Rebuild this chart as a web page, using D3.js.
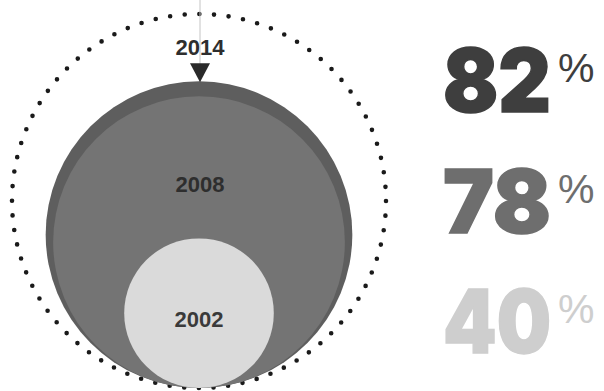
<!DOCTYPE html>
<html>
<head>
<meta charset="utf-8">
<script src="https://cdn.jsdelivr.net/npm/d3@7"></script>
<style>
  html, body { margin: 0; padding: 0; background: #fff; }
  svg { display: block; }
</style>
</head>
<body>
<svg id="chart" width="604" height="391"></svg>
<script>
// Share by survey year; circle radius grows linearly with the share
const years = ["2014", "2008", "2002"];
const values = [82, 78, 40];
const fullScale = 100;               // dotted ring = 100%
const circleColors = ["#5e5e5e", "#747474", "#dadada"];
const textColors = ["#3e3e3e", "#6e6e6e", "#cecece"];

const width = 604, height = 391;
const cx = 199, baseY = 388;          // all circles sit on a common bottom point

const svg = d3.select("#chart");

const r = d3.scaleLinear().domain([0, fullScale]).range([0, 187]);

// dotted outline for the 100% reference
svg.append("circle")
  .attr("cx", cx)
  .attr("cy", baseY - r(fullScale))
  .attr("r", r(fullScale))
  .attr("fill", "none")
  .attr("stroke", "#1a1a1a")
  .attr("stroke-width", 4.6)
  .attr("stroke-linecap", "round")
  .attr("stroke-dasharray", `0 ${(2 * Math.PI * r(fullScale)) / 80}`);

// nested circles, largest first
const data = years.map((y, i) => ({ year: y, value: values[i], color: circleColors[i], tc: textColors[i] }));

svg.selectAll("circle.share")
  .data(data)
  .join("circle")
  .attr("class", "share")
  .attr("cx", cx)
  .attr("cy", d => baseY - r(d.value))
  .attr("r", d => r(d.value))
  .attr("fill", d => d.color);

// pointer to the outermost (latest) circle
const topY = baseY - 2 * r(values[0]);
svg.append("line")
  .attr("x1", cx + 1).attr("x2", cx + 1)
  .attr("y1", 0).attr("y2", topY - 16)
  .attr("stroke", "#c4c4c4").attr("stroke-width", 1);
svg.append("path")
  .attr("d", `M${cx - 9},${topY - 18} L${cx + 11},${topY - 18} L${cx + 1},${topY + 1} Z`)
  .attr("fill", "#2a2a2a");

// year labels
const labelFont = "'Liberation Sans', Arial, sans-serif";
svg.append("text")
  .attr("x", cx + 1).attr("y", topY - 26)
  .attr("text-anchor", "middle")
  .attr("font-family", labelFont).attr("font-weight", "bold").attr("font-size", 22)
  .attr("fill", "#2e2e2e")
  .text(years[0]);
svg.append("text")
  .attr("x", cx + 1).attr("y", 192)
  .attr("text-anchor", "middle")
  .attr("font-family", labelFont).attr("font-weight", "bold").attr("font-size", 22)
  .attr("fill", "#2e2e2e")
  .text(years[1]);
svg.append("text")
  .attr("x", cx).attr("y", 327)
  .attr("text-anchor", "middle")
  .attr("font-family", labelFont).attr("font-weight", "bold").attr("font-size", 22)
  .attr("fill", "#3a3a3a")
  .text(years[2]);

// big share figures on the right
const rowY = d3.scalePoint().domain(years).range([112, 353]);
const figs = svg.selectAll("g.fig")
  .data(data)
  .join("g")
  .attr("class", "fig")
  .attr("transform", d => `translate(443,${rowY(d.year)})`);

const figWidth = 108;
figs.append("text")
  .attr("font-family", "Inter, Lato, 'Liberation Sans', sans-serif")
  .attr("font-weight", 900)
  .attr("font-size", 88)
  .attr("fill", d => d.tc)
  .attr("stroke", d => d.tc)
  .attr("stroke-width", 1.5)
  .text(d => d.value)
  .each(function () {
    // squeeze the heavy figures horizontally to a fixed width
    const w = this.getComputedTextLength();
    d3.select(this).attr("transform", `scale(${figWidth / w},1)`);
  });

figs.append("text")
  .attr("x", 115)
  .attr("y", -30)
  .attr("font-family", "'Liberation Sans', Arial, sans-serif")
  .attr("font-size", 41)
  .attr("fill", d => d.tc)
  .text("%");
</script>
</body>
</html>
